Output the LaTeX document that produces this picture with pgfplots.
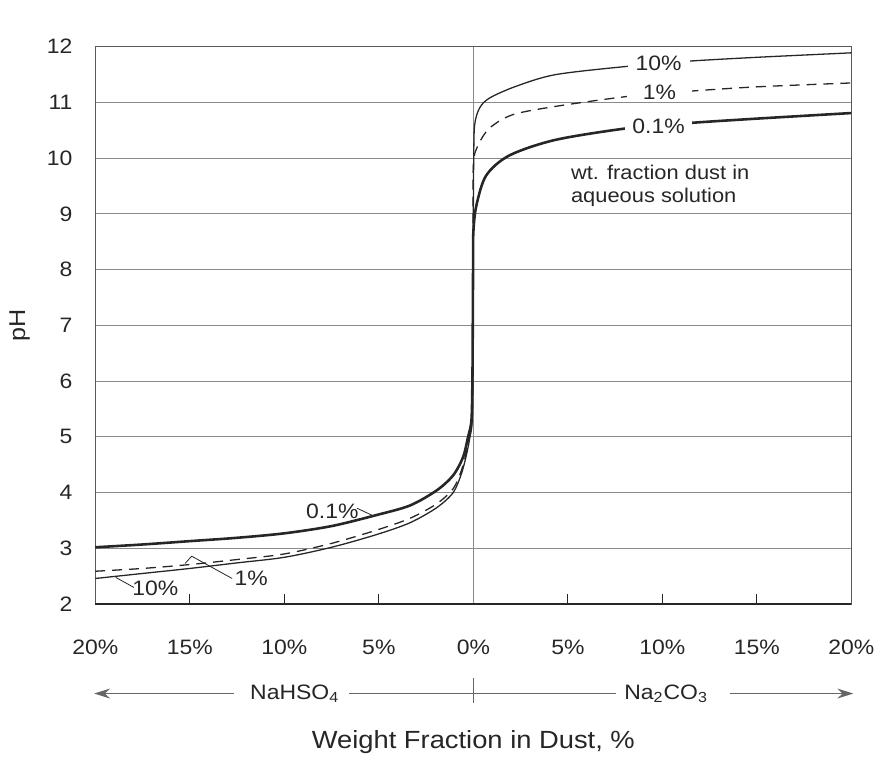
\documentclass[border=0pt]{standalone}
\usepackage{fontspec}
\setmainfont[FakeStretch=1.1]{Liberation Sans}
\usepackage{pgfplots}
\pgfplotsset{compat=1.18}
\usetikzlibrary{arrows.meta}
\definecolor{ink}{HTML}{262626}
\definecolor{gridc}{HTML}{8A8A8A}
\newcommand{\fs}{\fontsize{10.5}{12}\selectfont}
\begin{document}
\begin{tikzpicture}
\begin{axis}[
  scale only axis, width=380.5pt, height=280.5pt,
  xmin=-20, xmax=20, ymin=2, ymax=12,
  xtick={-20,-15,...,20},
  xticklabels={20\%,15\%,10\%,5\%,0\%,5\%,10\%,15\%,20\%},
  ytick={2,...,12},
  xtick pos=bottom, ytick pos=left,
  tick align=inside,
  major tick length=5pt,
  ytick style={draw=none},
  xtick style={ink, line width=0.6pt},
  ymajorgrids, grid style={gridc, line width=0.5pt},
  extra x ticks={0}, extra x tick labels={},
  extra x tick style={grid=major, major tick length=0pt},
  axis line style={black!65, line width=0.6pt},
  tick label style={font=\fs, text=ink},
  /pgf/number format/assume math mode=true,
  xticklabel style={yshift=-14.5pt},
  yticklabel style={xshift=-8pt},
  xlabel={Weight Fraction in Dust, \%},
  xlabel style={at={(axis description cs:0.5,-0.248)}, anchor=center, font=\fontsize{12.5}{14}\selectfont, text=ink},
  ylabel={pH},
  ylabel style={at={(axis description cs:-0.1,0.5)}, anchor=center, font=\fontsize{11.5}{13}\selectfont, text=ink},
  clip=false,
]
% 0.1% (thick)
\addplot[ink, line width=1.3pt, smooth, tension=0.5] coordinates {
(-20,3.02) (-17.5,3.07) (-15,3.13) (-12.5,3.19) (-10,3.27) (-7.5,3.40)
(-5.1,3.60) (-3.35,3.77) (-1.94,4.04) (-1.07,4.31) (-0.54,4.64) (-0.28,5.0)
(-0.1,5.3) (-0.05,6.0) (-0.03,7.0) (-0.015,8.0) (0.0,8.67) (0.16,9.15)
(0.68,9.69) (1.91,10.05) (4.36,10.33) (8.21,10.54) (11.36,10.63) (15,10.71) (20,10.81)
};
% 1% (dashed)
\addplot[ink, line width=0.65pt, dash pattern=on 5pt off 3.5pt, smooth, tension=0.5] coordinates {
(-20,2.59) (-17.5,2.64) (-15,2.71) (-12.5,2.80) (-10,2.90) (-7.5,3.09)
(-5.1,3.33) (-3.35,3.54) (-1.94,3.80) (-1.07,4.07) (-0.63,4.40) (-0.35,4.75)
(-0.18,5.05) (-0.06,5.4) (-0.03,6.5) (-0.01,8.5) (0.0,9.87) (0.25,10.23)
(0.86,10.54) (2.08,10.78) (4.36,10.93) (8.21,11.11) (11.36,11.20) (15,11.28) (20,11.35)
};
% 10% (thin solid)
\addplot[ink, line width=0.65pt, smooth, tension=0.5] coordinates {
(-20,2.46) (-17.5,2.55) (-15,2.64) (-12.5,2.74) (-10,2.84) (-7.5,3.02)
(-5.1,3.25) (-3.35,3.46) (-1.94,3.73) (-1.07,4.00) (-0.63,4.34) (-0.35,4.70)
(-0.18,5.0) (-0.06,5.3) (-0.03,6.5) (-0.01,8.5) (0.02,10.0) (0.07,10.6)
(0.33,10.9) (0.86,11.08) (2.26,11.29) (4.36,11.50) (8.21,11.65) (11.36,11.74) (15,11.81) (20,11.89)
};
% thicker bottom axis line
\draw[ink, line width=1.1pt] (rel axis cs:0,0) -- (rel axis cs:1,0);
% right-side curve labels
\node[fill=white, inner xsep=4pt, inner ysep=0.5pt, font=\fs, text=ink] at (axis cs:9.8,11.70) {10\%};
\node[fill=white, inner xsep=8pt, inner ysep=0.5pt, font=\fs, text=ink] at (axis cs:9.85,11.18) {1\%};
\node[fill=white, inner xsep=3.5pt, inner ysep=0.5pt, font=\fs, text=ink] at (axis cs:9.8,10.58) {0.1\%};
\node[anchor=west, align=left, inner sep=0pt, font=\fontsize{10}{11.7}\selectfont, text=ink] at (axis cs:5.15,9.51) {wt. fraction dust in\\aqueous solution};
% left-side curve labels
\node[font=\fs, text=ink] at (axis cs:-7.46,3.67) {0.1\%};
\draw[ink, line width=0.4pt] (axis cs:-6.15,3.72) -- (axis cs:-5.27,3.58);
\node[font=\fs, text=ink] at (axis cs:-16.82,2.28) {10\%};
\draw[ink, line width=0.4pt] (axis cs:-18.92,2.48) -- (axis cs:-17.96,2.30);
\node[font=\fs, text=ink] at (axis cs:-11.75,2.46) {1\%};
\draw[ink, line width=0.4pt] (axis cs:-15.25,2.73) -- (axis cs:-14.9,2.86) -- (axis cs:-12.76,2.46);
% compound arrows row
\draw[black!60, line width=0.6pt, -{Stealth[length=8pt,width=5pt]}] (axis cs:-12.66,0.396) -- (axis cs:-20.06,0.396);
\node[font=\fs, text=ink] at (axis cs:-9.45,0.396) {NaHSO\textsubscript{4}};
\draw[black!60, line width=0.6pt] (axis cs:-6.57,0.396) -- (axis cs:7.56,0.396);
\draw[black!60, line width=0.6pt] (axis cs:0,0.68) -- (axis cs:0,0.22);
\node[font=\fs, text=ink] at (axis cs:10.2,0.396) {Na\textsubscript{2}CO\textsubscript{3}};
\draw[black!60, line width=0.6pt, -{Stealth[length=8pt,width=5pt]}] (axis cs:13.6,0.396) -- (axis cs:20.1,0.396);
% overall extent
\path (rel axis cs:-0.126,-0.271) rectangle (rel axis cs:1.0315,1.0838);
\end{axis}
\end{tikzpicture}
\end{document}
